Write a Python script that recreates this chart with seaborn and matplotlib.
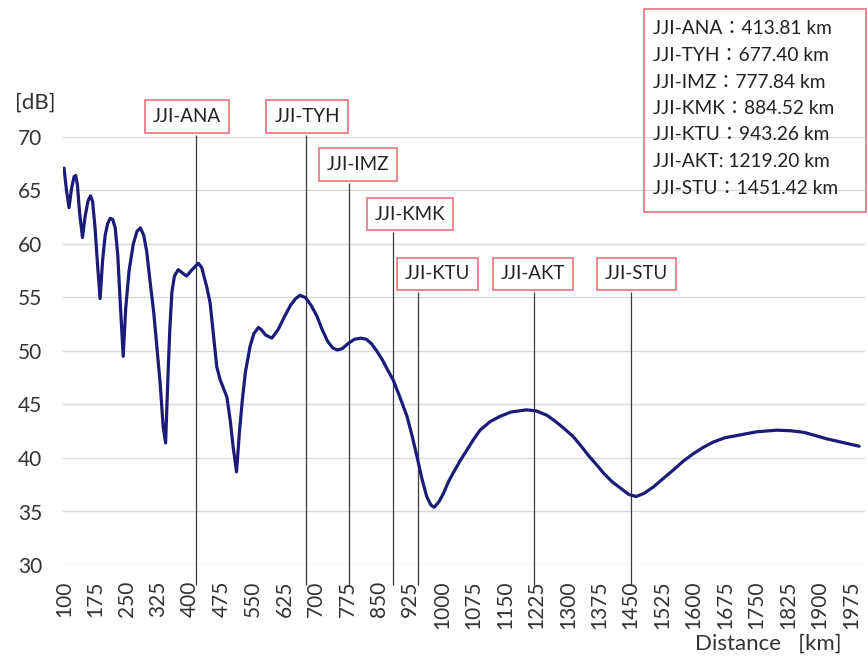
import matplotlib
matplotlib.use("Agg")
import matplotlib.pyplot as plt
import seaborn as sns
import pandas as pd
from matplotlib.patches import Rectangle

# distance [km] and received level [dB]
distance = [100, 106, 112, 118, 124, 128, 132, 137, 144, 150, 157, 163, 168, 174,
            180, 186, 192, 198, 204, 210, 216, 222, 228, 234, 241, 247, 255, 265,
            274, 282, 290, 297, 305, 314, 322, 329, 336, 342, 347, 352, 357, 363,
            372, 382, 392, 405, 420, 428, 440, 448, 456, 464, 472, 480, 488, 496,
            503, 511, 518, 525, 532, 543, 552, 563, 570, 580, 595, 610, 625, 640,
            652, 662, 675, 688, 702, 715, 728, 740, 750, 762, 777, 792, 807, 820,
            832, 845, 858, 870, 884, 900, 917, 929, 941, 953, 964, 974, 982, 993,
            1004, 1016, 1027, 1043, 1059, 1075, 1091, 1115, 1139, 1165, 1202, 1225,
            1250, 1268, 1290, 1313, 1332, 1350, 1368, 1385, 1405, 1425, 1445, 1463,
            1482, 1504, 1528, 1552, 1575, 1599, 1623, 1647, 1675, 1703, 1750, 1798,
            1830, 1862, 1890, 1916, 1955, 1994]
level = [67.1, 65.0, 63.4, 65.2, 66.3, 66.4, 65.5, 63.0, 60.6, 62.5, 64.0, 64.5,
         64.0, 61.5, 58.0, 54.9, 58.5, 60.8, 61.9, 62.4, 62.3, 61.5, 59.0, 54.5,
         49.5, 54.0, 57.5, 60.0, 61.2, 61.5, 60.8, 59.3, 56.5, 53.5, 50.0, 47.0,
         43.0, 41.4, 47.0, 52.0, 55.5, 57.0, 57.6, 57.3, 57.0, 57.6, 58.2, 57.8,
         56.0, 54.5, 51.5, 48.5, 47.3, 46.5, 45.7, 43.5, 41.0, 38.7, 42.5, 45.5,
         48.0, 50.4, 51.6, 52.2, 52.0, 51.5, 51.2, 52.0, 53.2, 54.3, 54.9, 55.2,
         55.0, 54.3, 53.3, 52.0, 50.9, 50.3, 50.1, 50.2, 50.7, 51.1, 51.2, 51.1,
         50.7, 50.0, 49.2, 48.3, 47.3, 45.7, 43.9, 42.1, 40.1, 38.0, 36.4, 35.6,
         35.4, 35.9, 36.7, 37.8, 38.6, 39.7, 40.7, 41.7, 42.6, 43.4, 43.9, 44.3,
         44.5, 44.4, 44.0, 43.5, 42.8, 42.0, 41.1, 40.2, 39.4, 38.6, 37.8, 37.2,
         36.6, 36.4, 36.7, 37.3, 38.1, 38.9, 39.7, 40.4, 41.0, 41.5, 41.9, 42.1,
         42.45, 42.6, 42.55, 42.4, 42.1, 41.8, 41.45, 41.1]

stations = ["JJI-ANA", "JJI-TYH", "JJI-IMZ", "JJI-KMK", "JJI-KTU", "JJI-AKT", "JJI-STU"]
station_km = [413.81, 677.40, 777.84, 884.52, 943.26, 1219.20, 1451.42]
info_lines = ["JJI-ANA\uff1a413.81 km", "JJI-TYH\uff1a677.40 km", "JJI-IMZ\uff1a777.84 km",
              "JJI-KMK\uff1a884.52 km", "JJI-KTU\uff1a943.26 km", "JJI-AKT: 1219.20 km",
              "JJI-STU\uff1a1451.42 km"]
xticks = list(range(100, 2000, 75))
yticks = [30, 35, 40, 45, 50, 55, 60, 65, 70]

# label box layout (data coords) and top of each marker line
box_x = [393, 679, 800, 924, 989, 1217, 1463]
box_y = [71.9, 71.9, 67.4, 62.8, 57.2, 57.2, 57.2]
line_top = [70.2, 70.2, 65.7, 61.1, 55.5, 55.5, 55.5]

sns.set_theme(style="white")
plt.rcParams["font.family"] = ["Lato", "Noto Sans CJK JP", "DejaVu Sans"]

df = pd.DataFrame({"distance": distance, "level": level})

fig = plt.figure(figsize=(8.68, 6.61), dpi=100)
ax = fig.add_axes([63 / 868, 1 - 565 / 661, 802 / 868, 428 / 661])

sns.lineplot(data=df, x="distance", y="level", ax=ax, color="#1b1b7a", lw=2.3, zorder=3)

ax.set_xlim(97.6, 2008)
ax.set_ylim(30, 70)
ax.set_xticks(xticks)
ax.set_yticks(yticks)
ax.set_xticklabels([str(t) for t in xticks], rotation=90)
ax.tick_params(axis="both", length=0, labelsize=15, labelcolor="#333333")
ax.tick_params(axis="y", pad=15)
ax.tick_params(axis="x", pad=11)
ax.grid(axis="y", color="#d9d9d9", lw=1)
ax.grid(axis="x", visible=False)
for s in ax.spines.values():
    s.set_visible(False)
ax.set_xlabel("")
ax.set_ylabel("")

ax.vlines(station_km, 28.1, line_top, color="#3a3a3a", lw=0.9, clip_on=False, zorder=2)

for name, bx, by in zip(stations, box_x, box_y):
    ax.text(bx, by, name, ha="center", va="center", fontsize=13.5, color="#222222",
            clip_on=False, zorder=4,
            bbox=dict(boxstyle="square,pad=0.42", fc="white", ec="#e8737e", lw=1.2))

fig.text(35 / 868, 1 - 103 / 661, "[dB]", ha="center", va="center", fontsize=16, color="#333333")
fig.text(768 / 868, 1 - 644 / 661, "Distance   [km]", ha="center", va="center",
         fontsize=16, color="#333333")

fig.patches.append(Rectangle((644 / 868, 1 - 212 / 661), 222 / 868, 203 / 661,
                             transform=fig.transFigure, fill=False, ec="#e8737e", lw=1.2))
for i, line in enumerate(info_lines):
    fig.text(653 / 868, 1 - (29 + 26.5 * i) / 661, line, ha="left", va="center",
             fontsize=13.8, color="#222222")

fig.savefig("out.png", dpi=100)
